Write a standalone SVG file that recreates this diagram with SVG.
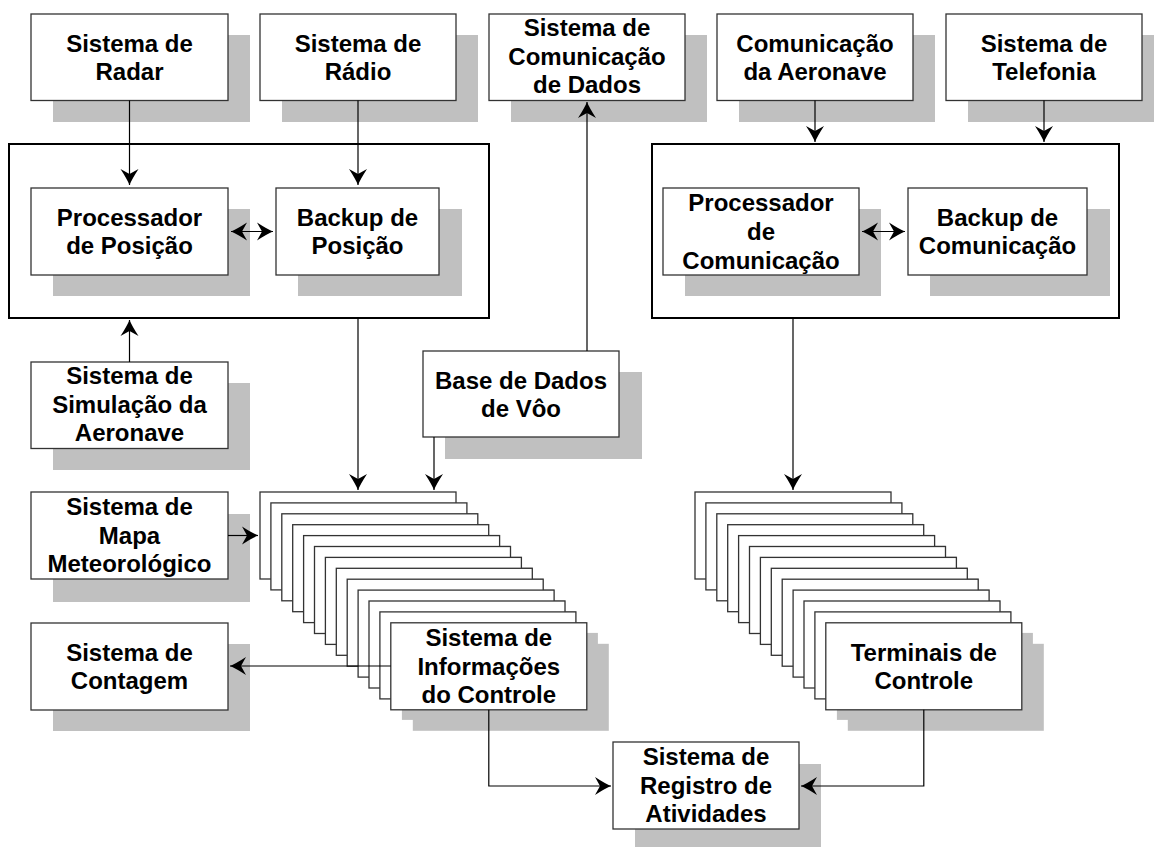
<svg xmlns="http://www.w3.org/2000/svg" width="1154" height="847" viewBox="0 0 1154 847">
<style>
  .sh { fill: #c0c0c0; stroke: none; }
  .bx { fill: #ffffff; stroke: #333333; stroke-width: 1.3; }
  .ct { fill: #ffffff; stroke: #000000; stroke-width: 2; }
  .lbl { font-family: "Liberation Sans", Arial, sans-serif; font-weight: bold; font-size: 24px; fill: #000000; text-anchor: middle; }
  .cn { fill: none; stroke: #000000; stroke-width: 1.2; }
  .ar { marker-end: url(#ah); }
  .ar2 { marker-start: url(#ahs); marker-end: url(#ah); }
</style>
<defs>
  <marker id="ah" viewBox="-18 -10 19 20" refX="0" refY="0" markerWidth="19" markerHeight="20" markerUnits="userSpaceOnUse" orient="auto">
    <path d="M0,0 Q-6,-2.5 -16,-9 L-11,0 L-16,9 Q-6,2.5 0,0 Z" fill="#000000"/>
  </marker>
  <marker id="ahs" viewBox="-18 -10 19 20" refX="0" refY="0" markerWidth="19" markerHeight="20" markerUnits="userSpaceOnUse" orient="auto-start-reverse">
    <path d="M0,0 Q-6,-2.5 -16,-9 L-11,0 L-16,9 Q-6,2.5 0,0 Z" fill="#000000"/>
  </marker>
</defs>
<rect x="0" y="0" width="1154" height="847" fill="#ffffff"/>

<!-- containers -->
<g id="grupo-posicao">
  <rect class="ct" x="9" y="144" width="480" height="174"/>
</g>
<g id="grupo-comunicacao">
  <rect class="ct" x="652" y="144" width="467" height="174"/>
</g>

<!-- top row -->
<g id="radar">
  <rect class="sh" x="53" y="35" width="197" height="87"/>
  <rect class="bx" x="31" y="14" width="197" height="86.5"/>
  <text class="lbl" x="129.5" y="51.5">Sistema de</text>
  <text class="lbl" x="129.5" y="79.5">Radar</text>
</g>
<g id="radio">
  <rect class="sh" x="282" y="35" width="196" height="87"/>
  <rect class="bx" x="260" y="14" width="196" height="86.5"/>
  <text class="lbl" x="358" y="51.5">Sistema de</text>
  <text class="lbl" x="358" y="79.5">Rádio</text>
</g>
<g id="dados">
  <rect class="sh" x="511" y="35" width="196" height="87"/>
  <rect class="bx" x="489" y="14" width="196" height="86.5"/>
  <text class="lbl" x="587" y="36">Sistema de</text>
  <text class="lbl" x="587" y="64.5">Comunicação</text>
  <text class="lbl" x="587" y="93">de Dados</text>
</g>
<g id="aeronave">
  <rect class="sh" x="739" y="35" width="196" height="87"/>
  <rect class="bx" x="717" y="14" width="196" height="86.5"/>
  <text class="lbl" x="815" y="51.5">Comunicação</text>
  <text class="lbl" x="815" y="79.5">da Aeronave</text>
</g>
<g id="telefonia">
  <rect class="sh" x="968" y="35" width="196" height="87"/>
  <rect class="bx" x="946" y="14" width="196" height="86.5"/>
  <text class="lbl" x="1044" y="51.5">Sistema de</text>
  <text class="lbl" x="1044" y="79.5">Telefonia</text>
</g>

<!-- inside containers -->
<g id="processador-posicao">
  <rect class="sh" x="53" y="209" width="197" height="87"/>
  <rect class="bx" x="31" y="188" width="197" height="87"/>
  <text class="lbl" x="129.5" y="226">Processador</text>
  <text class="lbl" x="129.5" y="254">de Posição</text>
</g>
<g id="backup-posicao">
  <rect class="sh" x="298" y="209" width="164" height="87"/>
  <rect class="bx" x="276" y="188" width="163" height="87"/>
  <text class="lbl" x="357.5" y="226">Backup de</text>
  <text class="lbl" x="357.5" y="254">Posição</text>
</g>
<g id="processador-comunicacao">
  <rect class="sh" x="685" y="209" width="196" height="87"/>
  <rect class="bx" x="663" y="188" width="196" height="87"/>
  <text class="lbl" x="761" y="211">Processador</text>
  <text class="lbl" x="761" y="240">de</text>
  <text class="lbl" x="761" y="269">Comunicação</text>
</g>
<g id="backup-comunicacao">
  <rect class="sh" x="930" y="209" width="180" height="87"/>
  <rect class="bx" x="908" y="188" width="179" height="87"/>
  <text class="lbl" x="997.5" y="226">Backup de</text>
  <text class="lbl" x="997.5" y="254">Comunicação</text>
</g>

<!-- middle -->
<g id="simulacao">
  <rect class="sh" x="53" y="383" width="197" height="87"/>
  <rect class="bx" x="31" y="362" width="197" height="86.5"/>
  <text class="lbl" x="129.5" y="384">Sistema de</text>
  <text class="lbl" x="129.5" y="413">Simulação da</text>
  <text class="lbl" x="129.5" y="441">Aeronave</text>
</g>
<g id="base-dados">
  <rect class="sh" x="445" y="372" width="197" height="87"/>
  <rect class="bx" x="423" y="351" width="196" height="86"/>
  <text class="lbl" x="521" y="388.5">Base de Dados</text>
  <text class="lbl" x="521" y="416.5">de Vôo</text>
</g>
<g id="mapa">
  <rect class="sh" x="53" y="514" width="197" height="88"/>
  <rect class="bx" x="31" y="492" width="197" height="87"/>
  <text class="lbl" x="129.5" y="515">Sistema de</text>
  <text class="lbl" x="129.5" y="544">Mapa</text>
  <text class="lbl" x="129.5" y="572">Meteorológico</text>
</g>
<g id="contagem">
  <rect class="sh" x="53" y="644" width="197" height="87"/>
  <rect class="bx" x="31" y="623" width="197" height="87"/>
  <text class="lbl" x="129.5" y="661">Sistema de</text>
  <text class="lbl" x="129.5" y="689">Contagem</text>
</g>

<!-- left stack -->
<g id="informacoes-controle">
  <g id="sic-stack">
    <rect class="sh" x="282" y="513" width="196" height="87"/><rect class="bx" x="260" y="492" width="196" height="87"/>
    <rect class="sh" x="292.9" y="523.9" width="196" height="87"/><rect class="bx" x="270.9" y="502.9" width="196" height="87"/>
    <rect class="sh" x="303.8" y="534.8" width="196" height="87"/><rect class="bx" x="281.8" y="513.8" width="196" height="87"/>
    <rect class="sh" x="314.7" y="545.7" width="196" height="87"/><rect class="bx" x="292.7" y="524.7" width="196" height="87"/>
    <rect class="sh" x="325.6" y="556.6" width="196" height="87"/><rect class="bx" x="303.6" y="535.6" width="196" height="87"/>
    <rect class="sh" x="336.5" y="567.5" width="196" height="87"/><rect class="bx" x="314.5" y="546.5" width="196" height="87"/>
    <rect class="sh" x="347.4" y="578.4" width="196" height="87"/><rect class="bx" x="325.4" y="557.4" width="196" height="87"/>
    <rect class="sh" x="358.3" y="589.3" width="196" height="87"/><rect class="bx" x="336.3" y="568.3" width="196" height="87"/>
    <rect class="sh" x="369.2" y="600.2" width="196" height="87"/><rect class="bx" x="347.2" y="579.2" width="196" height="87"/>
    <rect class="sh" x="380.1" y="611.1" width="196" height="87"/><rect class="bx" x="358.1" y="590.1" width="196" height="87"/>
    <rect class="sh" x="391" y="622" width="196" height="87"/><rect class="bx" x="369" y="601" width="196" height="87"/>
    <rect class="sh" x="401.9" y="632.9" width="196" height="87"/><rect class="bx" x="379.9" y="611.9" width="196" height="87"/>
    <rect class="sh" x="412.8" y="643.8" width="196" height="87"/><rect class="bx" x="390.8" y="622.8" width="196" height="87"/>
  </g>
  <text class="lbl" x="488.8" y="646">Sistema de</text>
  <text class="lbl" x="488.8" y="674.5">Informações</text>
  <text class="lbl" x="488.8" y="703">do Controle</text>
</g>

<!-- right stack -->
<g id="terminais-controle">
  <g id="tc-stack">
    <rect class="sh" x="717" y="513" width="196" height="87"/><rect class="bx" x="695" y="492" width="196" height="87"/>
    <rect class="sh" x="727.9" y="523.9" width="196" height="87"/><rect class="bx" x="705.9" y="502.9" width="196" height="87"/>
    <rect class="sh" x="738.8" y="534.8" width="196" height="87"/><rect class="bx" x="716.8" y="513.8" width="196" height="87"/>
    <rect class="sh" x="749.7" y="545.7" width="196" height="87"/><rect class="bx" x="727.7" y="524.7" width="196" height="87"/>
    <rect class="sh" x="760.6" y="556.6" width="196" height="87"/><rect class="bx" x="738.6" y="535.6" width="196" height="87"/>
    <rect class="sh" x="771.5" y="567.5" width="196" height="87"/><rect class="bx" x="749.5" y="546.5" width="196" height="87"/>
    <rect class="sh" x="782.4" y="578.4" width="196" height="87"/><rect class="bx" x="760.4" y="557.4" width="196" height="87"/>
    <rect class="sh" x="793.3" y="589.3" width="196" height="87"/><rect class="bx" x="771.3" y="568.3" width="196" height="87"/>
    <rect class="sh" x="804.2" y="600.2" width="196" height="87"/><rect class="bx" x="782.2" y="579.2" width="196" height="87"/>
    <rect class="sh" x="815.1" y="611.1" width="196" height="87"/><rect class="bx" x="793.1" y="590.1" width="196" height="87"/>
    <rect class="sh" x="826" y="622" width="196" height="87"/><rect class="bx" x="804" y="601" width="196" height="87"/>
    <rect class="sh" x="836.9" y="632.9" width="196" height="87"/><rect class="bx" x="814.9" y="611.9" width="196" height="87"/>
    <rect class="sh" x="847.8" y="643.8" width="196" height="87"/><rect class="bx" x="825.8" y="622.8" width="196" height="87"/>
  </g>
  <text class="lbl" x="923.8" y="660.5">Terminais de</text>
  <text class="lbl" x="923.8" y="688.5">Controle</text>
</g>

<g id="registro">
  <rect class="sh" x="635" y="764" width="186" height="87"/>
  <rect class="bx" x="613" y="742" width="186" height="87"/>
  <text class="lbl" x="706" y="765">Sistema de</text>
  <text class="lbl" x="706" y="794">Registro de</text>
  <text class="lbl" x="706" y="822">Atividades</text>
</g>

<!-- connectors -->
<g id="connectors">
  <path class="cn ar" d="M129.5,100.5 V185"/>
  <path class="cn ar" d="M358,100.5 V185"/>
  <path class="cn ar2" d="M231,231.5 H273"/>
  <path class="cn ar" d="M129.5,362 V320"/>
  <path class="cn ar" d="M358,318 V490"/>
  <path class="cn ar" d="M587,351 V102"/>
  <path class="cn ar" d="M434,437 V490"/>
  <path class="cn ar" d="M228,535.5 H258"/>
  <path class="cn ar" d="M390.8,666 H230"/>
  <path class="cn ar" d="M488.8,709.8 V786 H611"/>
  <path class="cn ar" d="M815,100.5 V142"/>
  <path class="cn ar" d="M1044,100.5 V142"/>
  <path class="cn ar2" d="M862,231.5 H905"/>
  <path class="cn ar" d="M793,318 V490"/>
  <path class="cn ar" d="M923.8,709.8 V786 H801"/>
</g>
</svg>
